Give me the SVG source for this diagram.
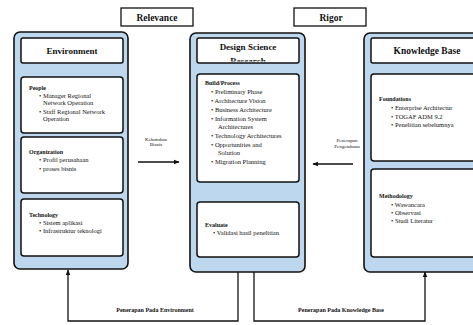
<svg xmlns="http://www.w3.org/2000/svg" width="473" height="325" viewBox="0 0 473 325">
<style>
.outer{fill:#bdd7ee;stroke:#111;stroke-width:1.6}
.box{fill:#fff;stroke:#111;stroke-width:1.5}
.tag{fill:#fff;stroke:#111;stroke-width:1.3}
text{font-family:"Liberation Serif","Times New Roman",serif;fill:#111}
.h{font-size:9.5px;font-weight:bold;text-anchor:middle}
.t{font-size:6px;font-weight:bold}
.i{font-size:6.5px}
.s{font-size:5px;text-anchor:middle}
.b{font-size:6px;font-weight:bold;text-anchor:middle}
.ln{fill:none;stroke:#111;stroke-width:1.3}
</style>
<defs>
<marker id="ah" viewBox="0 0 10 10" refX="9" refY="5" markerWidth="6" markerHeight="6" orient="auto" markerUnits="userSpaceOnUse">
<path d="M0,1 L10,5 L0,9 Z" fill="#111"/>
</marker>
<clipPath id="dsclip"><rect x="197" y="38" width="102" height="23.5"/></clipPath>
</defs>

<g id="relevance">
<rect class="tag" x="121" y="8" width="72" height="18"/>
<text class="h" x="157" y="20.5">Relevance</text>
</g>
<g id="rigor">
<rect class="tag" x="294" y="8" width="72" height="18"/>
<text class="h" x="331" y="20.5">Rigor</text>
</g>

<g id="environment">
<rect class="outer" x="14" y="32" width="114" height="237" rx="6"/>
<rect class="box" x="21" y="38" width="102" height="25" rx="2"/>
<text class="h" x="72" y="54" style="font-size:9px">Environment</text>
<rect class="box" x="21" y="77" width="102" height="56" rx="3"/>
<text class="t" x="29" y="90">People</text>
<text class="i" x="39" y="98">• Manager Regional</text>
<text class="i" x="43" y="105">Network Operation</text>
<text class="i" x="39" y="114">• Staff Regional Network</text>
<text class="i" x="43" y="121">Operation</text>
<rect class="box" x="21" y="137" width="102" height="56" rx="3"/>
<text class="t" x="29" y="154">Organization</text>
<text class="i" x="39" y="162">• Profil perusahaan</text>
<text class="i" x="39" y="171">• proses bisnis</text>
<rect class="box" x="21" y="199" width="102" height="57" rx="3"/>
<text class="t" x="29" y="217">Technology</text>
<text class="i" x="39" y="225">• Sistem aplikasi</text>
<text class="i" x="39" y="233">• Infrastruktur teknologi</text>
</g>

<g id="design-science">
<rect class="outer" x="190" y="33" width="115" height="239" rx="6"/>
<rect class="box" x="197" y="38" width="102" height="25" rx="2"/>
<text class="h" x="248" y="50" style="font-size:9px">Design Science</text>
<text class="h" x="248" y="63.5" style="font-size:9px" clip-path="url(#dsclip)">Research</text>
<rect class="box" x="197" y="74" width="102" height="108" rx="3"/>
<text class="t" x="205" y="85">Build/Process</text>
<text class="i" x="211" y="94">• Preliminary Phase</text>
<text class="i" x="211" y="103">• Architecture Vision</text>
<text class="i" x="211" y="112">• Business Architecture</text>
<text class="i" x="211" y="121">• Information System</text>
<text class="i" x="218" y="129">Architectures</text>
<text class="i" x="211" y="138">• Technology Architectures</text>
<text class="i" x="211" y="147">• Opportunities and</text>
<text class="i" x="218" y="155">Solution</text>
<text class="i" x="211" y="164">• Migration Planning</text>
<rect class="box" x="197" y="202" width="102" height="55" rx="3"/>
<text class="t" x="205" y="227">Evaluate</text>
<text class="i" x="213" y="235">• Validasi hasil penelitian</text>
</g>

<g id="knowledge-base">
<rect class="outer" x="364" y="33" width="120" height="239" rx="6"/>
<rect class="box" x="371" y="38" width="110" height="25" rx="2"/>
<text class="h" x="427" y="54">Knowledge Base</text>
<rect class="box" x="371" y="74" width="110" height="87" rx="3"/>
<text class="t" x="379" y="101">Foundations</text>
<text class="i" x="391" y="110">• Enterprise Architectur</text>
<text class="i" x="391" y="119">• TOGAF ADM 9.2</text>
<text class="i" x="391" y="127">• Penelitian sebelumnya</text>
<rect class="box" x="371" y="169" width="110" height="88" rx="3"/>
<text class="t" x="379" y="198">Methodology</text>
<text class="i" x="391" y="207">• Wawancara</text>
<text class="i" x="391" y="215">• Observasi</text>
<text class="i" x="391" y="223">• Studi Literatur</text>
</g>

<g id="connectors">
<path class="ln" d="M138,162 H179" marker-end="url(#ah)"/>
<text class="s" x="156" y="141">Kebutuhan</text>
<text class="s" x="156" y="146">Bisnis</text>
<path class="ln" d="M353,164 H313" marker-end="url(#ah)"/>
<text class="s" x="347" y="142">Penerapan</text>
<text class="s" x="347" y="148">Pengetahuan</text>
<path class="ln" d="M238,272 V321 H68 V270" marker-end="url(#ah)"/>
<path class="ln" d="M254,272 V321 H425 V272" marker-end="url(#ah)"/>
<text class="b" x="155" y="312">Penerapan Pada Environment</text>
<text class="b" x="341" y="312">Penerapan Pada Knowledge Base</text>
</g>
</svg>
